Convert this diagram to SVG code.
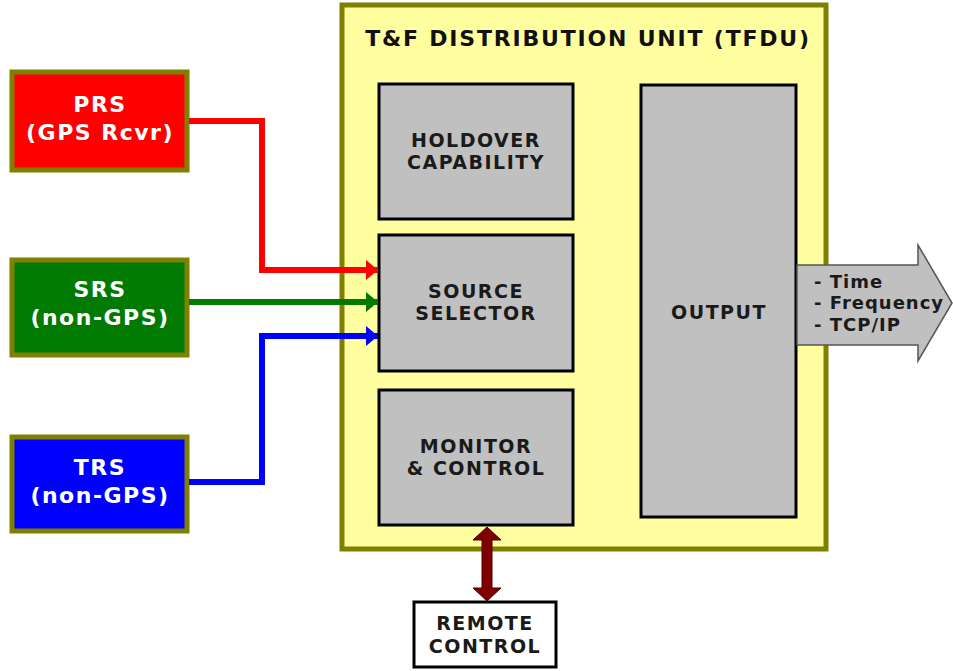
<svg xmlns="http://www.w3.org/2000/svg" width="953" height="671" viewBox="0 0 953 671">
<style>
text{font-family:"DejaVu Sans",Verdana,sans-serif;font-weight:bold;text-anchor:middle}
.src{stroke:#808000;stroke-width:5}
.src-t{fill:#ffffff;font-size:22px;letter-spacing:1.5px}
.blk{fill:#c0c0c0;stroke:#000;stroke-width:3}
.blk-t{fill:#1a1a1a;font-size:19px;letter-spacing:1.5px}
.out-t{fill:#1a1a1a;font-size:18px;letter-spacing:1px;text-anchor:start}
.wire{fill:none;stroke-width:6}
</style>
<defs>
<marker id="ar" viewBox="0 0 12 20" refX="12" refY="10" markerWidth="12" markerHeight="20" markerUnits="userSpaceOnUse" orient="auto"><path d="M0,0 L12,10 L0,20 Z" fill="context-stroke"/></marker>
</defs>
<rect width="953" height="671" fill="#ffffff"/>
<g id="tfdu">
<rect x="342" y="5" width="484" height="544" fill="#ffff9f" stroke="#808000" stroke-width="5"/>
<text x="588" y="46" style="font-size:22px;letter-spacing:1.8px;fill:#111">T&amp;F DISTRIBUTION UNIT (TFDU)</text>
</g>
<g id="holdover">
<rect class="blk" x="379" y="84" width="194" height="135"/>
<text class="blk-t" x="476" y="147">HOLDOVER</text>
<text class="blk-t" x="476" y="169">CAPABILITY</text>
</g>
<g id="selector">
<rect class="blk" x="379" y="235" width="194" height="136"/>
<text class="blk-t" x="476" y="298">SOURCE</text>
<text class="blk-t" x="476" y="320">SELECTOR</text>
</g>
<g id="monitor">
<rect class="blk" x="379" y="390" width="194" height="135"/>
<text class="blk-t" x="476" y="453">MONITOR</text>
<text class="blk-t" x="476" y="475">&amp; CONTROL</text>
</g>
<g id="output">
<rect class="blk" x="641" y="85" width="155" height="432"/>
<text class="blk-t" x="719" y="319">OUTPUT</text>
</g>
<g id="prs">
<rect class="src" x="12" y="72" width="175" height="98" fill="#ff0000"/>
<text class="src-t" x="100" y="112">PRS</text>
<text class="src-t" x="100" y="140">(GPS Rcvr)</text>
</g>
<g id="srs">
<rect class="src" x="12" y="260" width="175" height="95" fill="#007a00"/>
<text class="src-t" x="100" y="297">SRS</text>
<text class="src-t" x="100" y="325">(non-GPS)</text>
</g>
<g id="trs">
<rect class="src" x="12" y="437" width="175" height="94" fill="#0000ff"/>
<text class="src-t" x="100" y="475">TRS</text>
<text class="src-t" x="100" y="503">(non-GPS)</text>
</g>
<g id="remote">
<rect x="414" y="602" width="142" height="65" fill="#ffffff" stroke="#000" stroke-width="3"/>
<text class="blk-t" x="485" y="630">REMOTE</text>
<text class="blk-t" x="485" y="653">CONTROL</text>
</g>
<g id="connectors">
<polyline class="wire" stroke="#ff0000" points="189,121 262,121 262,270 378,270" marker-end="url(#ar)"/>
<polyline class="wire" stroke="#007a00" points="189,302 378,302" marker-end="url(#ar)"/>
<polyline class="wire" stroke="#0000ff" points="189,482 262,482 262,336 378,336" marker-end="url(#ar)"/>
<path d="M797,265 L918,265 L918,245 L952,303 L918,361 L918,345 L797,345 Z" fill="#c0c0c0" stroke="#555" stroke-width="1.5"/>
<text class="out-t" x="814" y="288">- Time</text>
<text class="out-t" x="814" y="309">- Frequency</text>
<text class="out-t" x="814" y="331">- TCP/IP</text>
<path d="M487,527 L501,540 L492,540 L492,588 L501,588 L487,601 L473,588 L482,588 L482,540 L473,540 Z" fill="#800000" stroke="#4a0000" stroke-width="1"/>
</g>
</svg>
